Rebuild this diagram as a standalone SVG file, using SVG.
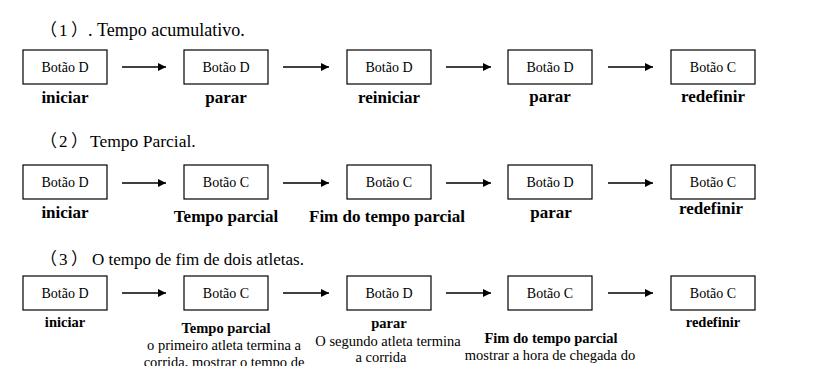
<svg xmlns="http://www.w3.org/2000/svg" width="825" height="366" viewBox="0 0 825 366">
<style>
.bg{fill:#fff}
.box{fill:#fff;stroke:#000;stroke-width:1.2}
.bt{font-family:"Liberation Serif","Times New Roman",serif;font-size:14px;text-anchor:middle;fill:#000}
.title{font-family:"Liberation Serif","Noto Sans CJK SC",serif;font-size:17px;fill:#000}
.lb{font-family:"Liberation Serif","Times New Roman",serif;font-weight:bold;font-size:17px;text-anchor:middle;fill:#000}
.lb3{font-family:"Liberation Serif","Times New Roman",serif;font-weight:bold;font-size:14.5px;text-anchor:middle;fill:#000}
.d3{font-family:"Liberation Serif","Times New Roman",serif;font-size:14.5px;text-anchor:middle;fill:#000}
.arr{stroke:#000;stroke-width:1.3;fill:none;marker-end:url(#ah)}
</style>
<defs>
<marker id="ah" viewBox="0 0 10 10" refX="10" refY="5" markerWidth="10" markerHeight="8" markerUnits="userSpaceOnUse" orient="auto">
<path d="M0,0 L10,5 L0,10 z" fill="#000"/>
</marker>
</defs>
<rect class="bg" width="825" height="366"/>

<!-- Titles -->
<text id="title1" class="title" x="40" y="36">（<tspan dx="2">1</tspan><tspan dx="3.5">）</tspan><tspan font-size="18">. Tempo acumulativo.</tspan></text>
<text id="title2" class="title" x="40" y="147">（<tspan dx="2">2</tspan><tspan dx="3.5">）</tspan><tspan dx="2" font-size="17.5">Tempo Parcial.</tspan></text>
<text id="title3" class="title" x="40" y="265">（<tspan dx="2">3</tspan><tspan dx="3.5">）</tspan><tspan dx="4">O tempo de fim de dois atletas.</tspan></text>

<!-- Row 1 -->
<g id="r1n1"><rect class="box" x="23" y="50" width="84" height="34"/><text class="bt" x="65" y="72">Botão D</text><text class="lb" x="65" y="103">iniciar</text></g>
<g id="r1n2"><rect class="box" x="184" y="50" width="84" height="34"/><text class="bt" x="226" y="72">Botão D</text><text class="lb" x="226" y="103">parar</text></g>
<g id="r1n3"><rect class="box" x="347" y="50" width="84" height="34"/><text class="bt" x="389" y="72">Botão D</text><text class="lb" x="389" y="103">reiniciar</text></g>
<g id="r1n4"><rect class="box" x="508" y="50" width="84" height="34"/><text class="bt" x="550" y="72">Botão D</text><text class="lb" x="550" y="102">parar</text></g>
<g id="r1n5"><rect class="box" x="671" y="50" width="84" height="34"/><text class="bt" x="713" y="72">Botão C</text><text class="lb" x="713" y="102">redefinir</text></g>

<!-- Row 2 -->
<g id="r2n1"><rect class="box" x="23" y="165" width="84" height="34"/><text class="bt" x="65" y="187">Botão D</text><text class="lb" x="65" y="218">iniciar</text></g>
<g id="r2n2"><rect class="box" x="184" y="165" width="84" height="34"/><text class="bt" x="226" y="187">Botão C</text><text class="lb" x="226" y="222">Tempo parcial</text></g>
<g id="r2n3"><rect class="box" x="347" y="165" width="84" height="34"/><text class="bt" x="389" y="187">Botão C</text><text class="lb" x="387" y="222">Fim do tempo parcial</text></g>
<g id="r2n4"><rect class="box" x="508" y="165" width="84" height="34"/><text class="bt" x="550" y="187">Botão D</text><text class="lb" x="551" y="218">parar</text></g>
<g id="r2n5"><rect class="box" x="671" y="165" width="84" height="34"/><text class="bt" x="713" y="187">Botão C</text><text class="lb" x="711" y="214">redefinir</text></g>

<!-- Row 3 -->
<g id="r3n1"><rect class="box" x="23" y="276" width="84" height="34"/><text class="bt" x="65" y="298">Botão D</text><text class="lb3" x="65" y="327">iniciar</text></g>
<g id="r3n2"><rect class="box" x="184" y="276" width="84" height="34"/><text class="bt" x="226" y="298">Botão C</text><text class="lb3" x="226" y="333">Tempo parcial</text><text class="d3" x="224" y="350">o primeiro atleta termina a</text><text class="d3" x="224" y="366.5">corrida, mostrar o tempo de</text></g>
<g id="r3n3"><rect class="box" x="347" y="276" width="84" height="34"/><text class="bt" x="389" y="298">Botão D</text><text class="lb3" x="389" y="328">parar</text><text class="d3" x="388" y="346">O segundo atleta termina</text><text class="d3" x="381" y="362">a corrida</text></g>
<g id="r3n4"><rect class="box" x="508" y="276" width="84" height="34"/><text class="bt" x="550" y="298">Botão C</text><text class="lb3" x="551" y="343">Fim do tempo parcial</text><text class="d3" x="550" y="360">mostrar a hora de chegada do</text></g>
<g id="r3n5"><rect class="box" x="671" y="276" width="84" height="34"/><text class="bt" x="713" y="298">Botão C</text><text class="lb3" x="713" y="327">redefinir</text></g>

<!-- Connectors -->
<g id="connectors">
<line class="arr" x1="122" y1="67" x2="166" y2="67"/>
<line class="arr" x1="283" y1="67" x2="329" y2="67"/>
<line class="arr" x1="446" y1="67" x2="491" y2="67"/>
<line class="arr" x1="608" y1="67" x2="653" y2="67"/>
<line class="arr" x1="122" y1="183" x2="166" y2="183"/>
<line class="arr" x1="283" y1="183" x2="329" y2="183"/>
<line class="arr" x1="446" y1="183" x2="491" y2="183"/>
<line class="arr" x1="608" y1="183" x2="653" y2="183"/>
<line class="arr" x1="122" y1="293" x2="166" y2="293"/>
<line class="arr" x1="283" y1="293" x2="329" y2="293"/>
<line class="arr" x1="446" y1="293" x2="491" y2="293"/>
<line class="arr" x1="608" y1="293" x2="653" y2="293"/>
</g>
</svg>
